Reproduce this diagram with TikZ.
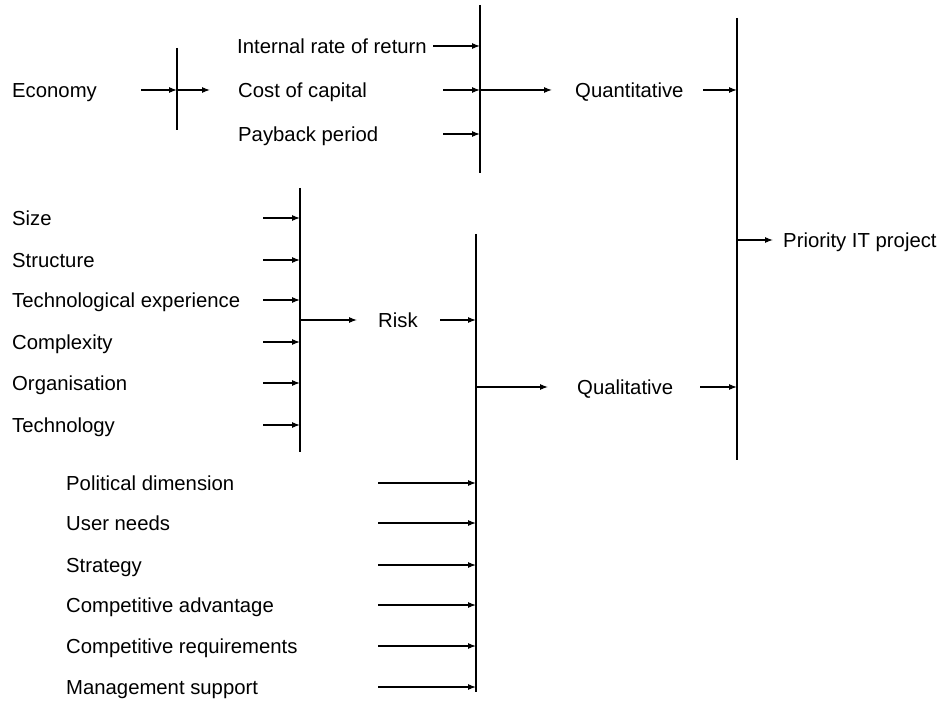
\documentclass[tikz,border=0pt]{standalone}
\usepackage{fontspec}
\setmainfont{Liberation Sans}
\usetikzlibrary{arrows.meta}

\tikzset{
  lbl/.style={anchor=west, inner sep=0pt, text height=14.7pt, text depth=0pt, font=\fontsize{20.3}{24}\selectfont},
  arr/.style={-{Latex[length=8pt,width=6pt]}, line width=1.1pt},
  bar/.style={line width=1.2pt}
}

\begin{document}
\begin{tikzpicture}[x=1pt,y=-1pt]
\useasboundingbox (0,0) rectangle (942,703);
\node [lbl] (eco) at (12,90) {Economy};
\node [lbl] (irr) at (237,46) {Internal rate of return};
\node [lbl] (coc) at (238,90) {Cost of capital};
\node [lbl] (pbp) at (238,134) {Payback period};
\node [lbl] (quant) at (575,90) {Quantitative};
\node [lbl] (prio) at (783,240) {Priority IT project};
\node [lbl] (size) at (12,218) {Size};
\node [lbl] (struct) at (12,260) {Structure};
\node [lbl] (techexp) at (12,300) {Technological experience};
\node [lbl] (cmplx) at (12,342) {Complexity};
\node [lbl] (org) at (12,383) {Organisation};
\node [lbl] (tech) at (12,425) {Technology};
\node [lbl] (risk) at (378,320) {Risk};
\node [lbl] (qual) at (577,387) {Qualitative};
\node [lbl] (pol) at (66,483) {Political dimension};
\node [lbl] (user) at (66,523) {User needs};
\node [lbl] (strat) at (66,565) {Strategy};
\node [lbl] (cadv) at (66,605) {Competitive advantage};
\node [lbl] (creq) at (66,646) {Competitive requirements};
\node [lbl] (mgmt) at (66,687) {Management support};
\coordinate (ecoT) at (177,48);
\coordinate (ecoB) at (177,130);
\coordinate (econT) at (480,5);
\coordinate (econB) at (480,173);
\coordinate (prioT) at (737,18);
\coordinate (prioB) at (737,460);
\coordinate (riskT) at (300,188);
\coordinate (riskB) at (300,452);
\coordinate (qualT) at (476,234);
\coordinate (qualB) at (476,692);
\coordinate (ecoin) at (141,0);
\coordinate (irrin) at (433,0);
\coordinate (econin) at (443,0);
\coordinate (quantin) at (703,0);
\coordinate (qualout) at (700,0);
\coordinate (riskin) at (263,0);
\coordinate (riskout) at (440,0);
\coordinate (qualin) at (378,0);
\draw [bar] (ecoT) -- (ecoB);
\draw [bar] (econT) -- (econB);
\draw [bar] (prioT) -- (prioB);
\draw [bar] (riskT) -- (riskB);
\draw [bar] (qualT) -- (qualB);
\draw [arr] (eco -| ecoin) -- (eco -| ecoT);
\draw [arr] (eco -| ecoT) -- ([xshift=-28pt]coc.west);
\draw [arr] (irr -| irrin) -- (irr -| econT);
\draw [arr] (coc -| econin) -- (coc -| econT);
\draw [arr] (pbp -| econin) -- (pbp -| econT);
\draw [arr] (coc -| econT) -- ([xshift=-23pt]quant.west);
\draw [arr] (quant -| quantin) -- (quant -| prioT);
\draw [arr] (qual -| qualout) -- (qual -| prioT);
\draw [arr] (prio -| prioT) -- ([xshift=-10pt]prio.west);
\draw [arr] (size -| riskin) -- (size -| riskT);
\draw [arr] (struct -| riskin) -- (struct -| riskT);
\draw [arr] (techexp -| riskin) -- (techexp -| riskT);
\draw [arr] (cmplx -| riskin) -- (cmplx -| riskT);
\draw [arr] (org -| riskin) -- (org -| riskT);
\draw [arr] (tech -| riskin) -- (tech -| riskT);
\draw [arr] (risk -| riskT) -- ([xshift=-21pt]risk.west);
\draw [arr] (risk -| riskout) -- (risk -| qualT);
\draw [arr] (qual -| qualT) -- ([xshift=-29pt]qual.west);
\draw [arr] (pol -| qualin) -- (pol -| qualT);
\draw [arr] (user -| qualin) -- (user -| qualT);
\draw [arr] (strat -| qualin) -- (strat -| qualT);
\draw [arr] (cadv -| qualin) -- (cadv -| qualT);
\draw [arr] (creq -| qualin) -- (creq -| qualT);
\draw [arr] (mgmt -| qualin) -- (mgmt -| qualT);
\end{tikzpicture}
\end{document}
